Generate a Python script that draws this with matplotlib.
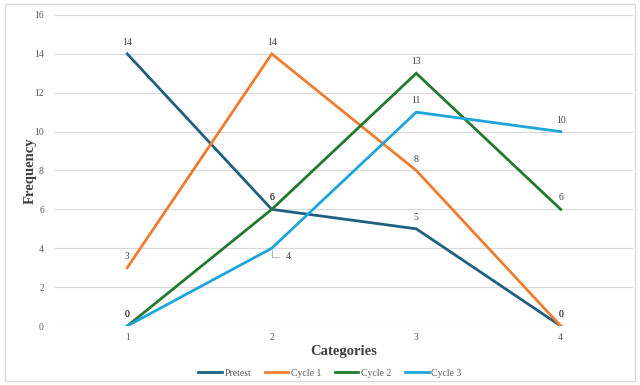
import matplotlib
matplotlib.use("Agg")
import matplotlib.pyplot as plt
from matplotlib.patches import Rectangle

categories = [1, 2, 3, 4]
pretest = [14, 6, 5, 0]
cycle1 = [3, 14, 8, 0]
cycle2 = [0, 6, 13, 6]
cycle3 = [0, 4, 11, 10]
series_names = ["Pretest", "Cycle 1", "Cycle 2", "Cycle 3"]
colors = ["#1F5F80", "#ED7D31", "#237A2E", "#1EA5DC"]
y_ticks = [0, 2, 4, 6, 8, 10, 12, 14, 16]

plt.rcParams["font.family"] = ["Liberation Serif", "DejaVu Serif"]

fig = plt.figure(figsize=(6.4, 3.85), dpi=100)
fig.patches.append(Rectangle((5 / 640, 4 / 385), 630 / 640, 377 / 385,
                             transform=fig.transFigure, fill=False,
                             edgecolor="#D9D9D9", linewidth=1.0))
ax = fig.add_axes([55 / 640, 59 / 385, 578 / 640, 311 / 385])

xpos = list(range(len(categories)))
all_series = [pretest, cycle1, cycle2, cycle3]
for name, vals, c in zip(series_names, all_series, colors):
    ax.plot(xpos, vals, color=c, linewidth=2.0, label=name, solid_joinstyle="miter")

# value labels above each point
label_color = "#404040"
for si, vals in enumerate(all_series):
    for i, v in enumerate(vals):
        if si == 3 and i == 1:
            # leader-line label placed to the lower right
            ax.annotate(str(v), xy=(xpos[i], v), xytext=(12, -6),
                        textcoords="offset points", fontsize=7, color=label_color,
                        ha="center", va="center",
                        arrowprops=dict(arrowstyle="-", color="#A6A6A6", lw=0.6,
                                        connectionstyle="angle,angleA=0,angleB=90,rad=0",
                                        shrinkA=3, shrinkB=1))
        else:
            ax.annotate(str(v), xy=(xpos[i], v), xytext=(0, 5),
                        textcoords="offset points", fontsize=7, color=label_color,
                        ha="center", va="bottom")

ax.set_xlim(-0.5, len(categories) - 0.5)
ax.set_ylim(0, 16)
ax.set_yticks(y_ticks)
ax.set_yticklabels([str(t) for t in y_ticks], fontsize=7, color="#595959")
ax.set_xticks(xpos)
ax.set_xticklabels([str(c) for c in categories], fontsize=7, color="#595959")
ax.tick_params(axis="x", length=0, pad=5)
ax.tick_params(axis="y", length=0, pad=8)
ax.grid(axis="y", color="#D9D9D9", linewidth=0.8)
ax.set_axisbelow(True)
for s in ax.spines.values():
    s.set_visible(False)

ax.set_xlabel("Categories", fontsize=10.5, fontweight="bold", color="#404040", labelpad=2)
ax.set_ylabel("Frequency", fontsize=10.5, fontweight="bold", color="#404040", labelpad=-2)

fig.legend(loc="center", bbox_to_anchor=(330 / 640, 1 - 373 / 385), ncol=4,
           frameon=False, fontsize=7, handlelength=2.4, columnspacing=1.4,
           handletextpad=0.3, labelcolor="#595959")

fig.savefig("out.png", dpi=100)
